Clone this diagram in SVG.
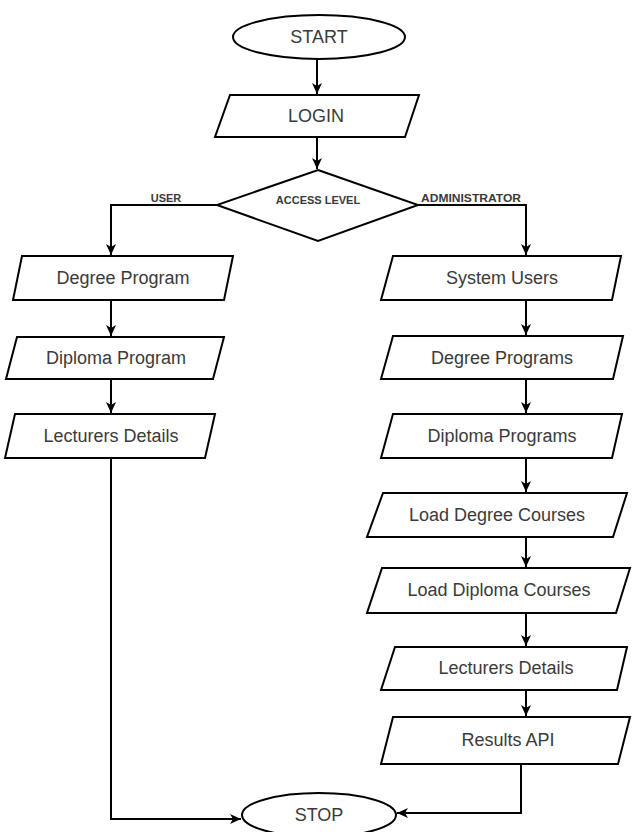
<svg xmlns="http://www.w3.org/2000/svg" width="632" height="832" viewBox="0 0 632 832">
<style>
.s{fill:#fff;stroke:#000;stroke-width:2;stroke-linejoin:miter}
.t{font-family:"Liberation Sans",Arial,sans-serif;font-size:18px;fill:#3a3a3a;text-anchor:middle}
.l{font-family:"Liberation Sans",Arial,sans-serif;font-size:11px;font-weight:bold;fill:#3a3a3a;text-anchor:middle}
.c{fill:none;stroke:#000;stroke-width:2}
</style>
<defs>
<marker id="a" markerUnits="userSpaceOnUse" markerWidth="12" markerHeight="12" viewBox="0 0 12 12" refX="11" refY="6" orient="auto">
<path d="M0,1 L11,6 L0,11 L3,6 z" fill="#000"/>
</marker>
</defs>
<rect width="632" height="832" fill="#fff"/>
<g id="connectors">
<path class="c" d="M317,59 V94" marker-end="url(#a)"/>
<path class="c" d="M317,138 V169" marker-end="url(#a)"/>
<path class="c" d="M217,205 H111 V255" marker-end="url(#a)"/>
<path class="c" d="M418,205 H526 V255" marker-end="url(#a)"/>
<path class="c" d="M111,300 V336" marker-end="url(#a)"/>
<path class="c" d="M111,379 V413" marker-end="url(#a)"/>
<path class="c" d="M111,458 V819 H241" marker-end="url(#a)"/>
<path class="c" d="M526,300 V335" marker-end="url(#a)"/>
<path class="c" d="M526,379 V413" marker-end="url(#a)"/>
<path class="c" d="M526,458 V492" marker-end="url(#a)"/>
<path class="c" d="M526,537 V567" marker-end="url(#a)"/>
<path class="c" d="M526,613 V646" marker-end="url(#a)"/>
<path class="c" d="M526,690 V716" marker-end="url(#a)"/>
<path class="c" d="M521,764 V813 H397" marker-end="url(#a)"/>
</g>
<g id="start"><ellipse class="s" cx="319" cy="37" rx="86" ry="22"/><text class="t" x="319" y="43">START</text></g>
<g id="login"><polygon class="s" points="230,95 419,95 405,137 215,137"/><text class="t" x="316" y="122">LOGIN</text></g>
<g id="access"><polygon class="s" points="318,170 418,205 318,241 217,205"/><text class="l" x="318" y="204">ACCESS LEVEL</text></g>
<g id="lbl-user"><text class="l" x="166" y="202">USER</text></g>
<g id="lbl-admin"><text class="l" x="471" y="202" textLength="100" lengthAdjust="spacingAndGlyphs">ADMINISTRATOR</text></g>
<g id="degree-program"><polygon class="s" points="22,256 233,256 224,300 13,300"/><text class="t" x="123" y="284">Degree Program</text></g>
<g id="diploma-program"><polygon class="s" points="17,337 224,337 213,379 6,379"/><text class="t" x="116" y="364">Diploma Program</text></g>
<g id="lecturers-left"><polygon class="s" points="15,414 215,414 205,458 5,458"/><text class="t" x="111" y="442">Lecturers Details</text></g>
<g id="system-users"><polygon class="s" points="393,256 621,256 612,300 381,300"/><text class="t" x="502" y="284">System Users</text></g>
<g id="degree-programs"><polygon class="s" points="393,336 623,336 613,379 381,379"/><text class="t" x="502" y="364">Degree Programs</text></g>
<g id="diploma-programs"><polygon class="s" points="393,414 622,414 612,458 381,458"/><text class="t" x="502" y="442">Diploma Programs</text></g>
<g id="load-degree"><polygon class="s" points="383,493 627,493 613,537 367,537"/><text class="t" x="497" y="521">Load Degree Courses</text></g>
<g id="load-diploma"><polygon class="s" points="382,568 630,568 616,613 367,613"/><text class="t" x="499" y="596">Load Diploma Courses</text></g>
<g id="lecturers-right"><polygon class="s" points="395,647 627,647 617,690 381,690"/><text class="t" x="506" y="674">Lecturers Details</text></g>
<g id="results-api"><polygon class="s" points="393,717 630,717 618,764 381,764"/><text class="t" x="508" y="746">Results API</text></g>
<g id="stop"><ellipse class="s" cx="319" cy="815" rx="77" ry="22"/><text class="t" x="319" y="821">STOP</text></g>
</svg>
